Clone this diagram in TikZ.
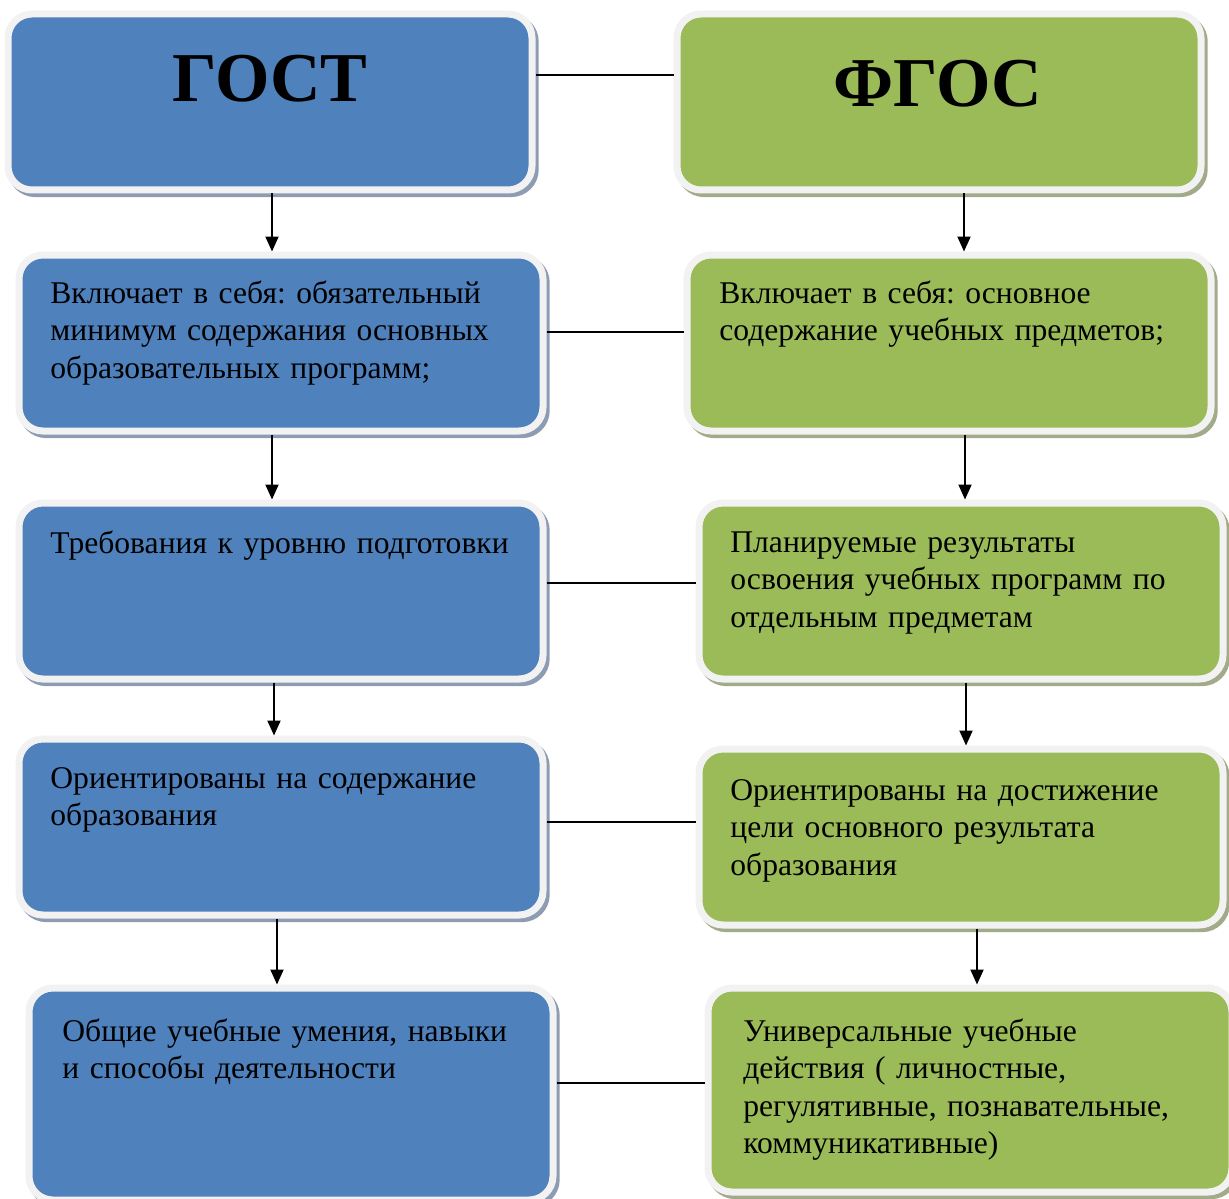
\documentclass[tikz,border=0pt]{standalone}
\usepackage{fontspec}
\setmainfont{Liberation Serif}
\usetikzlibrary{shadows}
\usetikzlibrary{arrows.meta}
\definecolor{gostblue}{HTML}{4F81BD}
\definecolor{fgosgreen}{HTML}{9BBB59}
\definecolor{rim}{HTML}{F2F2F2}
\definecolor{blueshade}{HTML}{8D9CB2}
\definecolor{greenshade}{HTML}{A2AB89}
\frenchspacing

\begin{document}
\begin{tikzpicture}[x=0.5pt, y=-0.5pt,
  box/.style={draw=rim, line width=3.5pt, rounded corners=12pt,
    minimum width=262pt, minimum height=88pt, inner sep=0pt},
  gost/.style={box, fill=gostblue, drop shadow={shadow xshift=1.6pt,
    shadow yshift=-1.8pt, fill=blueshade, draw=blueshade, line width=3.5pt, opacity=1}},
  fgos/.style={box, fill=fgosgreen, drop shadow={shadow xshift=1.6pt,
    shadow yshift=-1.8pt, fill=greenshade, draw=greenshade, line width=3.5pt, opacity=1}},
  head/.style={anchor=base, inner sep=0pt, font=\bfseries\fontsize{35}{40}\selectfont},
  txt/.style={anchor=base west, inner sep=0pt, text width=245pt, align=left,
    font=\fontsize{15.8}{18.75}\selectfont},
  arr/.style={-{Triangle[length=7.5pt, width=6.5pt]}, line width=1pt},
  link/.style={line width=0.8pt}]

\useasboundingbox (0,0) rectangle (1229,1198);

% left column
\node[gost] (g1) at (270,102) {};
\node[gost] (g2) at (281,343) {};
\node[gost] (g3) at (281,591) {};
\node[gost] (g4) at (281,827) {};
\node[gost, minimum height=106pt] (g5) at (291,1094) {};

% right column
\node[fgos] (f1) at (939,102) {};
\node[fgos] (f2) at (949,343) {};
\node[fgos] (f3) at (961,591) {};
\node[fgos] (f4) at (961,837) {};
\node[fgos, minimum height=102pt] (f5) at (970,1090) {};

% texts
\node[head] (g1t) at (270,102) {ГОСТ};
\node[head] (f1t) at (938,107) {ФГОС};

\node[txt] (g2t) at (50,303) {Включает в себя: обязательный\\минимум содержания основных\\образовательных программ;};
\node[txt] (g3t) at (50,553) {Требования к уровню подготовки};
\node[txt] (g4t) at (50,788) {Ориентированы на содержание\\образования};
\node[txt] (g5t) at (62,1041) {Общие учебные умения, навыки\\и способы деятельности};

\node[txt] (f2t) at (719,303) {Включает в себя: основное\\содержание учебных предметов;};
\node[txt] (f3t) at (730,552) {Планируемые результаты\\освоения учебных программ по\\отдельным предметам};
\node[txt] (f4t) at (730,800) {Ориентированы на достижение\\цели основного результата\\образования};
\node[txt] (f5t) at (743,1041) {Универсальные учебные\\действия ( личностные,\\регулятивные, познавательные,\\коммуникативные)};

% arrow columns
\coordinate (a1) at (272,0);
\coordinate (a2) at (272,0);
\coordinate (a3) at (274,0);
\coordinate (a4) at (277,0);
\coordinate (b1) at (964,0);
\coordinate (b2) at (965,0);
\coordinate (b3) at (966,0);
\coordinate (b4) at (977,0);

\draw[arr] (g1.south -| a1) -- (g2.north -| a1);
\draw[arr] (g2.south -| a2) -- (g3.north -| a2);
\draw[arr] (g3.south -| a3) -- (g4.north -| a3);
\draw[arr] (g4.south -| a4) -- (g5.north -| a4);

\draw[arr] (f1.south -| b1) -- (f2.north -| b1);
\draw[arr] (f2.south -| b2) -- (f3.north -| b2);
\draw[arr] (f3.south -| b3) -- (f4.north -| b3);
\draw[arr] (f4.south -| b4) -- (f5.north -| b4);

% links between columns
\coordinate (h1) at (0,75);
\coordinate (h2) at (0,332);
\coordinate (h3) at (0,583);
\coordinate (h4) at (0,822);
\coordinate (h5) at (0,1083);

\draw[link] (g1.east |- h1) -- (f1.west |- h1);
\draw[link] (g2.east |- h2) -- (f2.west |- h2);
\draw[link] (g3.east |- h3) -- (f3.west |- h3);
\draw[link] (g4.east |- h4) -- (f4.west |- h4);
\draw[link] (g5.east |- h5) -- (f5.west |- h5);

\end{tikzpicture}
\end{document}
